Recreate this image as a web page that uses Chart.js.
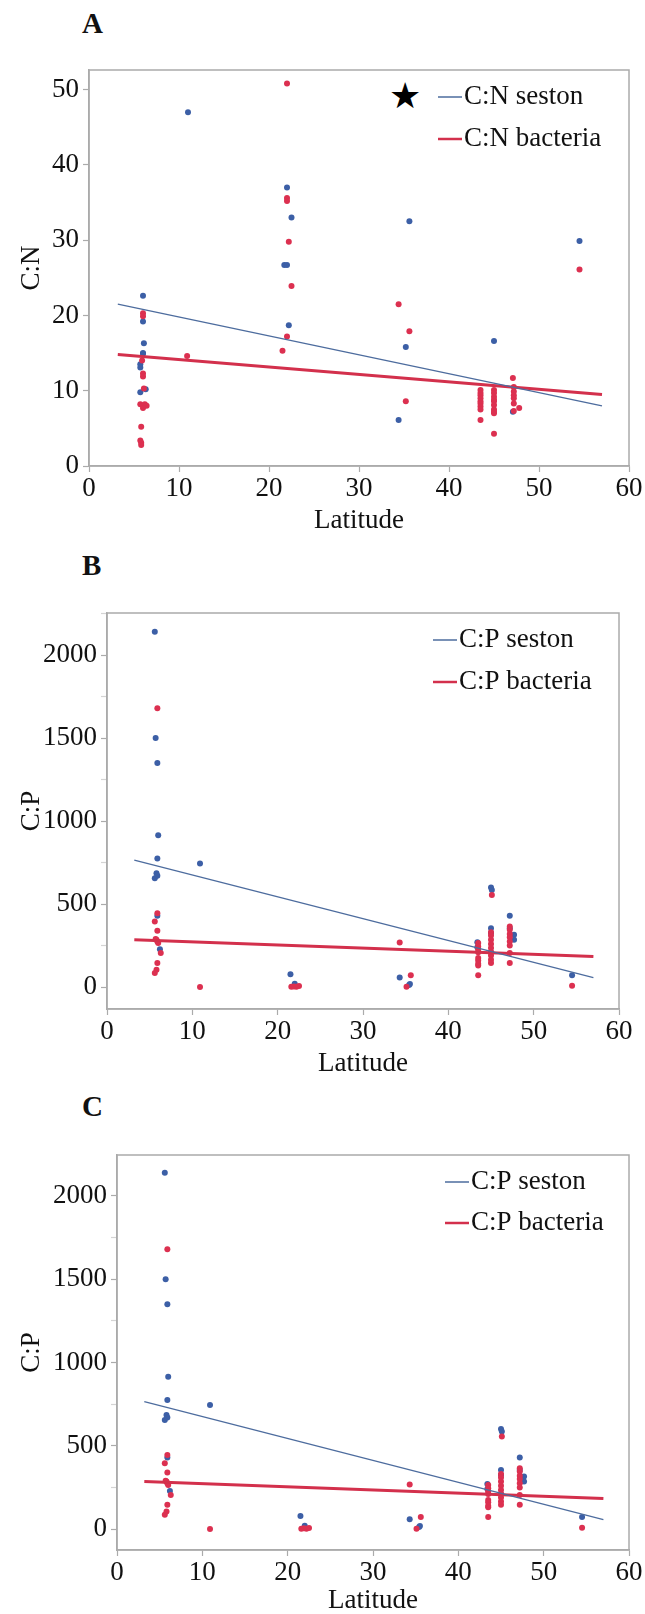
<!DOCTYPE html>
<html>
<head>
<meta charset="utf-8">
<script src="https://cdn.jsdelivr.net/npm/chart.js@4.4.1/dist/chart.umd.min.js"></script>
<style>
  html, body { margin: 0; padding: 0; background: #fff; overflow: hidden; }
  body { width: 645px; height: 1614px; position: relative; font-family: 'Liberation Serif'; }
  canvas { position: absolute; left: 0; }
  .panel { position: absolute; left: 82px; font-weight: bold; font-size: 29px; line-height: 30px; color: #111; }
  .star { position: absolute; font-family: 'DejaVu Sans'; font-size: 36px; line-height: 36px; color: #000; }
</style>
</head>
<body>
<div class="panel" style="top:8px">A</div>
<div class="star" style="left:389px;top:78px">★</div>
<div class="panel" style="top:550px">B</div>
<div class="panel" style="top:1091px">C</div>
<canvas id="chartA" width="645" height="480" style="top:60px"></canvas>
<canvas id="chartB" width="645" height="480" style="top:603px"></canvas>
<canvas id="chartC" width="645" height="469" style="top:1145px"></canvas>
<script>
// x axis (latitude) and tick labels
const latTicks = [0, 10, 20, 30, 40, 50, 60];
const cnTicks = [0, 10, 20, 30, 40, 50];
const cpTicks = [0, 500, 1000, 1500, 2000];

// C:N seston (blue points)
const cnSestonLat = [11.0, 22.0, 22.5, 21.7, 22.0, 22.2, 6.0, 6.0, 6.1, 6.0, 5.7, 5.7, 6.3, 5.7, 6.0,
  35.6, 54.5, 35.2, 34.4, 45.0, 47.1];
const cnSestonVal = [47.0, 37.0, 33.0, 26.7, 26.7, 18.7, 22.6, 19.2, 16.3, 14.9, 13.5, 13.1, 10.2, 9.8, 15.0,
  32.5, 29.9, 15.8, 6.1, 16.6, 7.2];

// C:N bacteria (red points)
const cnBacteriaLat = [22.0, 22.0, 22.0, 22.2, 22.5, 22.0, 21.5, 10.9,
  6.0, 6.0, 5.9, 6.0, 6.0, 6.1, 5.7, 6.2, 6.4, 6.0, 5.8, 5.7, 5.8, 5.8,
  34.4, 35.6, 35.2, 54.5, 45.0, 47.1,
  43.5, 43.5, 43.5, 43.5, 43.5, 43.5, 43.5, 43.5, 43.5,
  45.0, 45.0, 45.0, 45.0, 45.0, 45.0, 45.0, 45.0, 45.0,
  47.2, 47.2, 47.2, 47.2, 47.2, 47.2, 47.8];
const cnBacteriaVal = [50.8, 35.6, 35.2, 29.8, 23.9, 17.2, 15.3, 14.6,
  20.3, 19.9, 14.0, 12.3, 11.9, 10.3, 8.2, 8.2, 8.0, 7.7, 5.2, 3.4, 3.1, 2.8,
  21.5, 17.9, 8.6, 26.1, 4.3, 11.7,
  10.1, 9.7, 9.4, 9.0, 8.6, 8.3, 7.9, 7.5, 6.1,
  10.1, 9.7, 9.2, 8.8, 8.6, 8.1, 7.5, 7.2, 7.0,
  10.5, 9.9, 9.4, 9.0, 8.3, 7.3, 7.7];

// C:P seston (blue points)
const cpSestonLat = [5.6, 5.7, 5.9, 6.0, 5.9, 5.8, 5.6, 5.9, 10.9, 5.9, 6.2, 21.5, 22.0,
  34.3, 35.4, 35.5, 54.5, 45.0, 45.1, 47.2, 45.0, 45.0, 47.2, 47.7, 47.7, 43.4, 43.4, 45.0];
const cpSestonVal = [2140, 1500, 1350, 915, 775, 685, 655, 670, 745, 430, 228, 78, 20,
  58, 12, 18, 72, 600, 585, 430, 355, 325, 355, 315, 285, 270, 240, 210];

// C:P bacteria (red points)
const cpBacteriaLat = [5.9, 5.9, 5.6, 5.9, 5.8, 5.9, 5.7, 6.0, 6.3, 5.9, 5.8, 5.6, 10.9,
  21.6, 21.9, 22.2, 22.5, 34.3, 35.6, 35.1, 54.5, 45.1,
  43.5, 43.5, 43.5, 43.5, 43.5, 43.5, 43.5, 43.5, 43.5,
  45.0, 45.0, 45.0, 45.0, 45.0, 45.0, 45.0, 45.0, 45.0,
  47.2, 47.2, 47.2, 47.2, 47.2, 47.2, 47.2, 47.2];
const cpBacteriaVal = [1680, 445, 395, 340, 285, 275, 290, 265, 205, 145, 105, 85, 0,
  2, 4, 2, 6, 268, 72, 2, 8, 555,
  265, 245, 225, 210, 175, 160, 140, 130, 72,
  330, 310, 285, 260, 235, 210, 190, 165, 145,
  365, 345, 320, 300, 275, 250, 205, 145];

// fitted lines (end points)
const fitLat = [3.2, 57.0];
const cnSestonFit = [21.5, 8.0];
const cnBacteriaFit = [14.8, 9.5];
const cpSestonFit = [765, 57];
const cpBacteriaFit = [285, 184];

const BLUE = '#3c5fa6';
const RED = '#dc3050';
const LINE_BLUE = '#4d6c9e';
const LINE_RED = '#d3304c';
const AXIS_GREY = '#ababab';
const SERIF = '"Liberation Serif"';

Chart.defaults.font.family = SERIF;

function pairs(xs, ys) {
  return xs.map((x, i) => ({ x: x, y: ys[i] }));
}

// box round the plot area
const framePlugin = {
  id: 'frame',
  beforeDatasetsDraw(chart) {
    const a = chart.chartArea;
    const ctx = chart.ctx;
    ctx.save();
    ctx.strokeStyle = AXIS_GREY;
    ctx.lineWidth = 1.5;
    ctx.strokeRect(a.left, a.top, a.right - a.left, a.bottom - a.top);
    ctx.restore();
  }
};

// legend: short line + label, inside the plot at top right
const lineLegend = {
  id: 'lineLegend',
  afterDatasetsDraw(chart, args, opts) {
    const ctx = chart.ctx;
    ctx.save();
    ctx.font = '27px ' + SERIF;
    ctx.textBaseline = 'middle';
    ctx.textAlign = 'left';
    [0, 1].forEach((idx, i) => {
      const ds = chart.data.datasets[idx];
      const y = chart.chartArea.top + opts.top + i * opts.gap;
      ctx.strokeStyle = ds.borderColor;
      ctx.lineWidth = idx === 0 ? 1.5 : 2.5;
      ctx.beginPath();
      ctx.moveTo(opts.x, y);
      ctx.lineTo(opts.x + 24, y);
      ctx.stroke();
      ctx.fillStyle = '#111';
      ctx.fillText(ds.label, opts.x + 26, y);
    });
    ctx.restore();
  }
};

function makePanel(id, p) {
  return new Chart(document.getElementById(id), {
    type: 'scatter',
    data: {
      datasets: [
        { label: p.names[0], data: pairs(fitLat, p.sestonFit), showLine: true, borderColor: LINE_BLUE,
          borderWidth: 1.3, pointRadius: 0, order: 0 },
        { label: p.names[1], data: pairs(fitLat, p.bacteriaFit), showLine: true, borderColor: LINE_RED,
          borderWidth: 3, pointRadius: 0, order: 1 },
        { label: p.names[1] + ' data', data: pairs(p.bacteriaLat, p.bacteriaVal), backgroundColor: RED,
          borderWidth: 0, pointRadius: 3, order: 2 },
        { label: p.names[0] + ' data', data: pairs(p.sestonLat, p.sestonVal), backgroundColor: BLUE,
          borderWidth: 0, pointRadius: 3, order: 3 }
      ]
    },
    options: {
      responsive: false,
      animation: false,
      devicePixelRatio: 1,
      layout: { padding: { left: 0, top: 10, right: p.right, bottom: 0 } },
      plugins: {
        legend: { display: false },
        tooltip: { enabled: false },
        lineLegend: { x: p.legendX, top: 27, gap: p.legendGap }
      },
      scales: {
        x: {
          type: 'linear', min: 0, max: 60,
          ticks: {
            stepSize: 10, includeBounds: false, maxRotation: 0, padding: 3, color: '#111',
            font: { family: SERIF, size: 27, lineHeight: 1 },
            callback: v => latTicks.includes(v) ? String(v) : ''
          },
          grid: { drawOnChartArea: false, tickLength: 6, color: AXIS_GREY, tickWidth: 1.2 },
          border: { color: AXIS_GREY, width: 1.5 },
          title: { display: true, text: 'Latitude', color: '#111',
            font: { family: SERIF, size: 27, lineHeight: 1 }, padding: { top: 0, bottom: p.xTitlePad } },
          afterFit: s => { s.height = p.xHeight; s.paddingLeft = 0; s.paddingRight = 0; }
        },
        y: {
          type: 'linear', min: p.yMin, max: p.yMax,
          ticks: {
            stepSize: p.yStep, includeBounds: false, padding: 4, color: '#111',
            font: { family: SERIF, size: 27, lineHeight: 1 },
            callback: v => p.yTicks.includes(v) ? String(v) : ''
          },
          grid: {
            drawOnChartArea: false, tickLength: 6, tickWidth: 1.2,
            tickColor: c => p.yTicks.includes(c.tick.value) ? AXIS_GREY : '#d4d4d4',
            color: AXIS_GREY
          },
          border: { color: AXIS_GREY, width: 1.5 },
          title: { display: true, text: p.yTitle, color: '#111',
            font: { family: SERIF, size: 27, lineHeight: 1 }, padding: { top: 18, bottom: 0 } },
          afterFit: s => { s.width = p.yWidth; s.paddingTop = 0; s.paddingBottom = 0; }
        }
      }
    },
    plugins: [framePlugin, lineLegend]
  });
}

makePanel('chartA', {
  names: ['C:N seston', 'C:N bacteria'],
  sestonLat: cnSestonLat, sestonVal: cnSestonVal,
  bacteriaLat: cnBacteriaLat, bacteriaVal: cnBacteriaVal,
  sestonFit: cnSestonFit, bacteriaFit: cnBacteriaFit,
  yMin: 0, yMax: 52.6, yStep: 10, yTicks: cnTicks, yTitle: 'C:N',
  yWidth: 89, right: 16, xHeight: 74, xTitlePad: 6,
  legendX: 438, legendGap: 42
});

makePanel('chartB', {
  names: ['C:P seston', 'C:P bacteria'],
  sestonLat: cpSestonLat, sestonVal: cpSestonVal,
  bacteriaLat: cpBacteriaLat, bacteriaVal: cpBacteriaVal,
  sestonFit: cpSestonFit, bacteriaFit: cpBacteriaFit,
  yMin: -132, yMax: 2253, yStep: 250, yTicks: cpTicks, yTitle: 'C:P',
  yWidth: 107, right: 26, xHeight: 74, xTitlePad: 6,
  legendX: 433, legendGap: 42
});

makePanel('chartC', {
  names: ['C:P seston', 'C:P bacteria'],
  sestonLat: cpSestonLat, sestonVal: cpSestonVal,
  bacteriaLat: cpBacteriaLat, bacteriaVal: cpBacteriaVal,
  sestonFit: cpSestonFit, bacteriaFit: cpBacteriaFit,
  yMin: -126, yMax: 2246, yStep: 250, yTicks: cpTicks, yTitle: 'C:P',
  yWidth: 117, right: 16, xHeight: 64, xTitlePad: 0,
  legendX: 445, legendGap: 41
});
</script>
</body>
</html>
